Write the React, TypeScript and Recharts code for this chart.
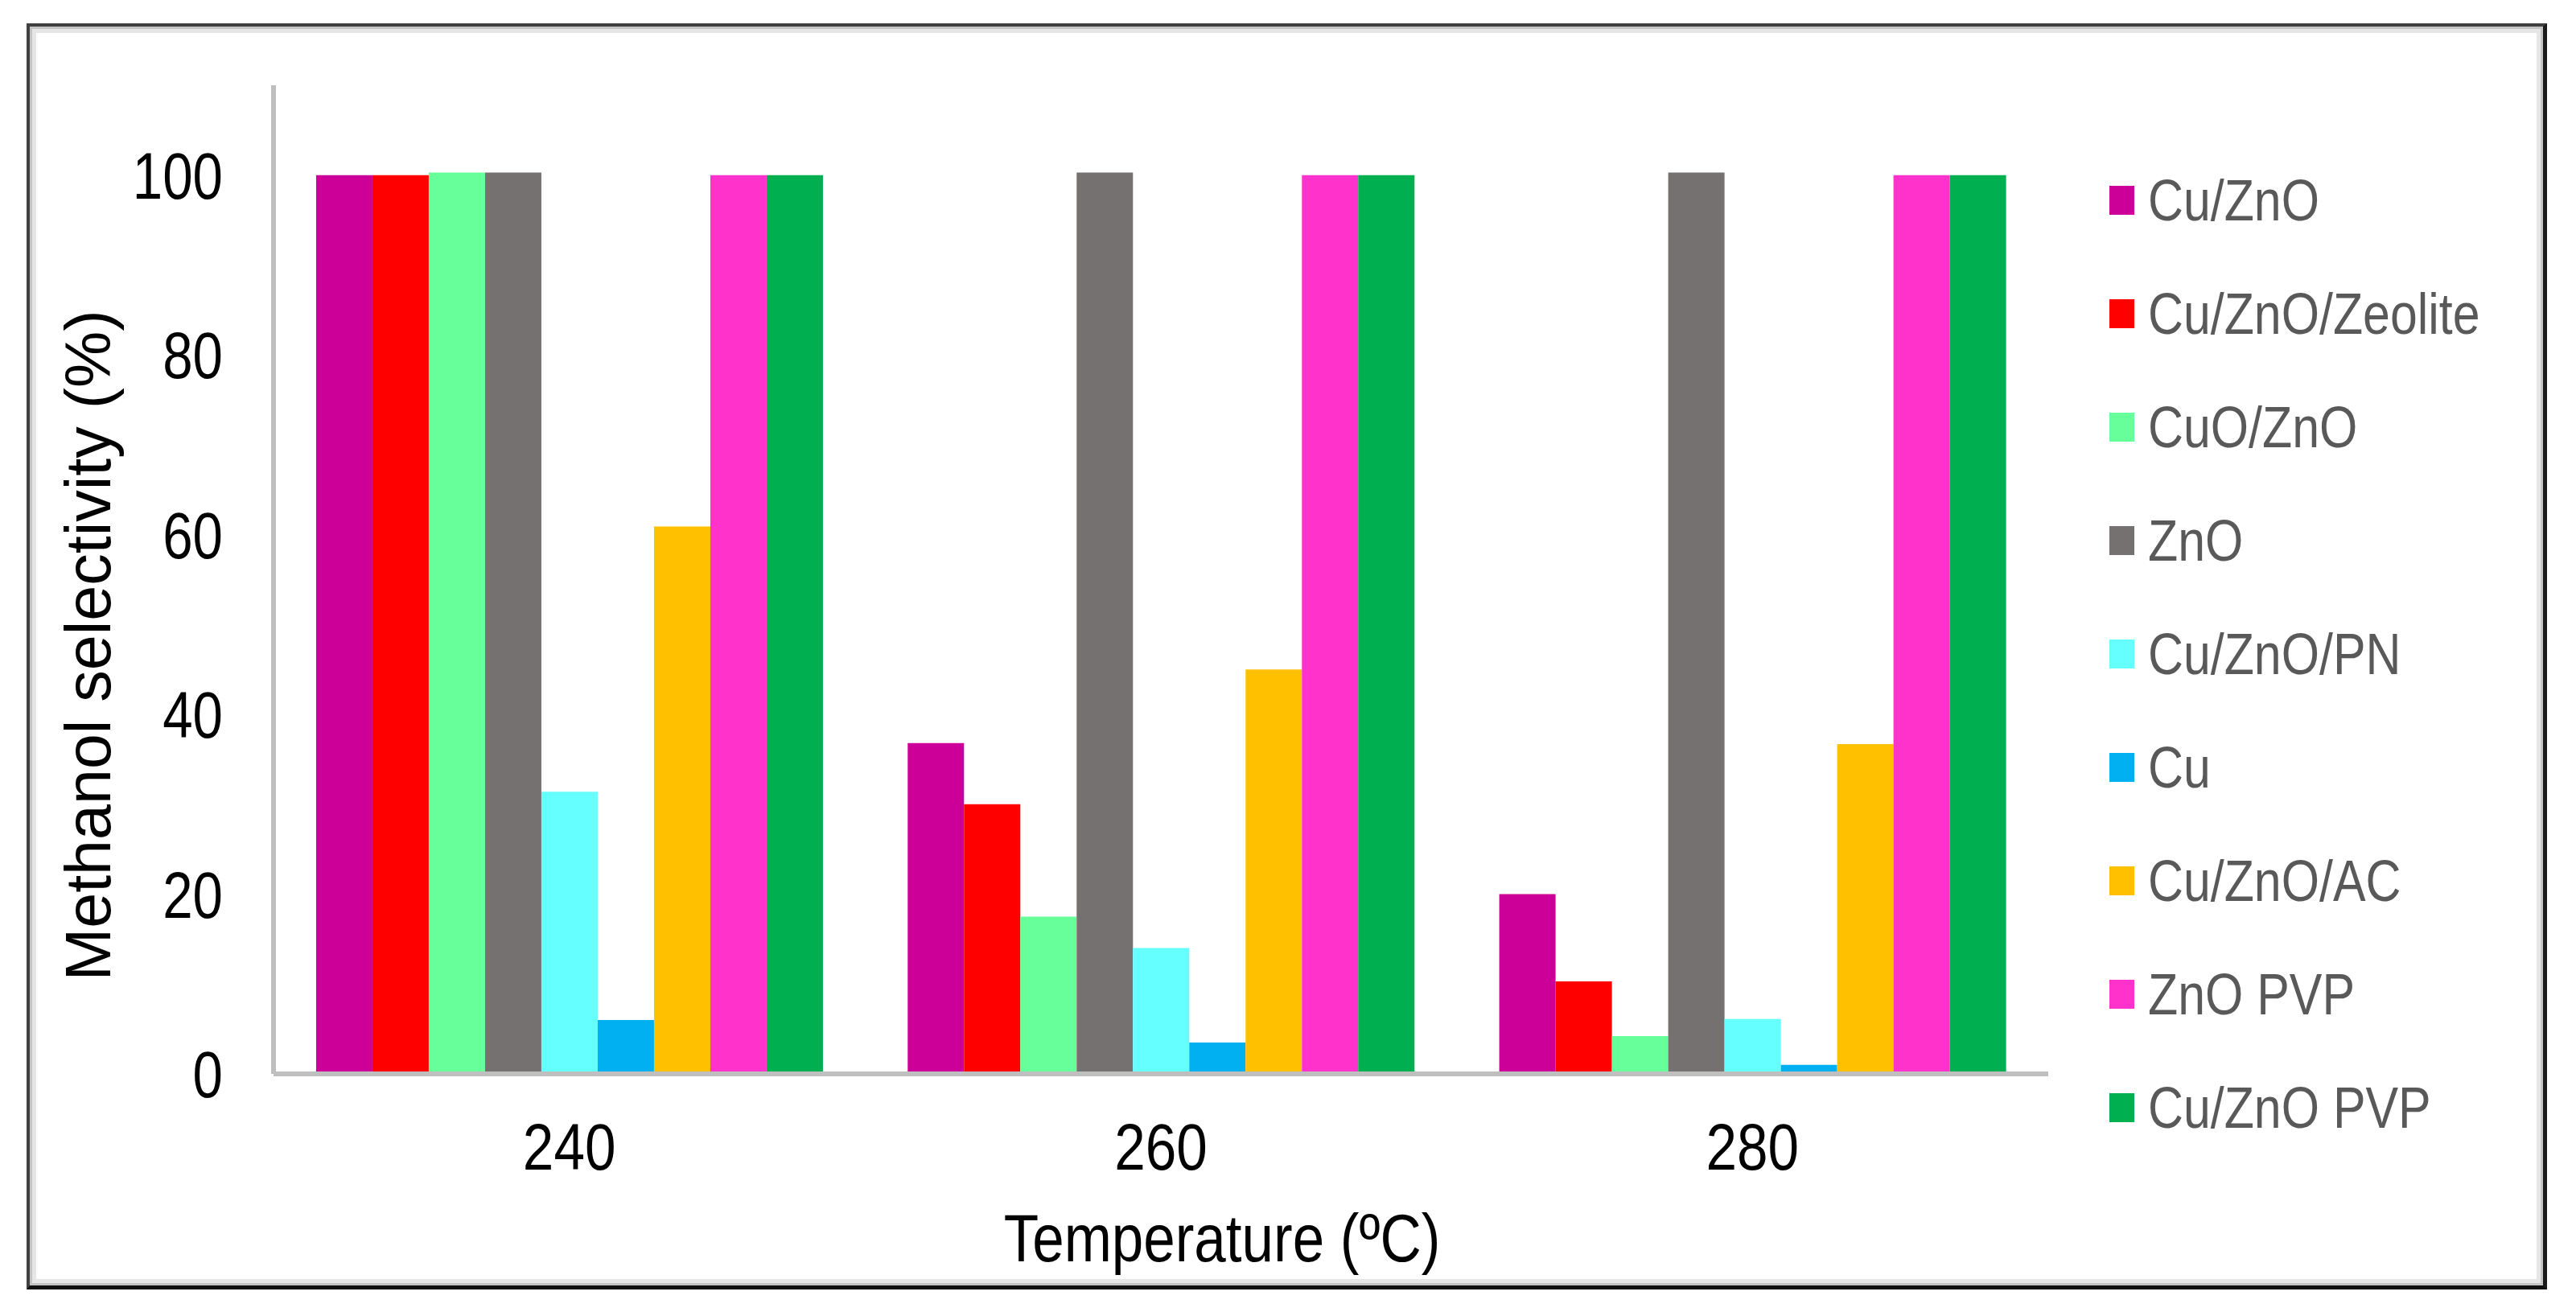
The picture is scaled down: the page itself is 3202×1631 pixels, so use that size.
import React from 'react';
import { Bar, BarChart, XAxis, YAxis } from 'recharts';

// temperatures (ºC) on the category axis
const categories = ['240', '260', '280'];

const seriesNames = [
  'Cu/ZnO',
  'Cu/ZnO/Zeolite',
  'CuO/ZnO',
  'ZnO',
  'Cu/ZnO/PN',
  'Cu',
  'Cu/ZnO/AC',
  'ZnO PVP',
  'Cu/ZnO PVP',
];

const seriesColors = [
  '#CC0099',
  '#FF0000',
  '#66FF99',
  '#767171',
  '#66FFFF',
  '#00B0F0',
  '#FFC000',
  '#FF33CC',
  '#00B050',
];

// methanol selectivity (%) per catalyst at 240 / 260 / 280 ºC
const cuZnO = [100, 36.8, 20];
const cuZnOZeolite = [100, 30, 10.3];
const cuOZnO = [100.3, 17.5, 4.2];
const znO = [100.3, 100.3, 100.3];
const cuZnOPN = [31.4, 14, 6.1];
const cu = [6, 3.5, 1];
const cuZnOAC = [60.9, 45, 36.7];
const znOPVP = [100, 100, 100];
const cuZnOPVP = [100, 100, 100];

const yTicks = [0, 20, 40, 60, 80, 100];

const seriesValues = [cuZnO, cuZnOZeolite, cuOZnO, znO, cuZnOPN, cu, cuZnOAC, znOPVP, cuZnOPVP];

const data = categories.map((temp, i) => {
  const row: Record<string, string | number> = { temp };
  seriesValues.forEach((vals, s) => {
    row[`s${s}`] = vals[i];
  });
  return row;
});

const FONT = '"Liberation Sans", Arial, Helvetica, sans-serif';
const AXIS_GREY = '#BFBFBF';

function YTick(props: any) {
  const { x, y, payload } = props;
  return (
    <g transform={`translate(${x},${y + 29}) scale(0.82,1)`}>
      <text x={0} y={0} textAnchor="end" fontSize={82} fill="#000" fontFamily={FONT}>
        {payload?.value}
      </text>
    </g>
  );
}

function XTick(props: any) {
  const { x, y, payload } = props;
  return (
    <g transform={`translate(${x},${y + 119}) scale(0.845,1)`}>
      <text x={0} y={0} textAnchor="middle" fontSize={82} fill="#000" fontFamily={FONT}>
        {payload?.value}
      </text>
    </g>
  );
}

function XTitle(props: any) {
  const vb = props?.viewBox ?? {};
  const cx = (vb.x ?? 0) + (vb.width ?? 0) / 2 + 76;
  const by = (vb.y ?? 0) + 233;
  return (
    <g transform={`translate(${cx},${by}) scale(0.845,1)`}>
      <text x={0} y={0} textAnchor="middle" fontSize={84} fill="#000" fontFamily={FONT}>
        Temperature (ºC)
      </text>
    </g>
  );
}

function YTitle(props: any) {
  const vb = props?.viewBox ?? {};
  const cy = (vb.y ?? 0) + (vb.height ?? 0) / 2 + 82;
  return (
    <text
      x={0}
      y={0}
      transform={`translate(137,${cy}) rotate(-90)`}
      textAnchor="middle"
      fontSize={79}
      fill="#000"
      fontFamily={FONT}
    >
      Methanol selectivity (%)
    </text>
  );
}

function LegendBox() {
  return (
    <div style={{ position: 'absolute', left: 2622, top: 178, fontFamily: FONT }}>
      {seriesNames.map((name, i) => (
        <div key={name} style={{ height: 141, display: 'flex', alignItems: 'center' }}>
          <div style={{ width: 31, height: 36, background: seriesColors[i], marginRight: 17, flex: 'none' }} />
          <div
            style={{
              fontSize: 72,
              lineHeight: '72px',
              color: '#595959',
              whiteSpace: 'nowrap',
              transform: 'scale(0.845,1)',
              transformOrigin: 'left center',
            }}
          >
            {name}
          </div>
        </div>
      ))}
    </div>
  );
}

export default function App() {
  return (
    <div style={{ position: 'absolute', left: 0, top: 0, width: 3202, height: 1631, background: '#fff' }}>
      <div
        style={{
          position: 'absolute',
          left: 33,
          top: 29,
          width: 3133,
          height: 1574,
          boxSizing: 'border-box',
          borderTop: '4px solid #404040',
          borderLeft: '4px solid #404040',
          borderRight: '5px solid #1a1a1a',
          borderBottom: '5px solid #111',
          boxShadow: 'inset 0 0 0 3px #c4c4c4, inset 0 0 0 8px #e6e6e6',
        }}
      />
      <div style={{ position: 'absolute', left: 0, top: 0 }}>
        <BarChart
          width={3202}
          height={1631}
          data={data}
          margin={{ top: 106, right: 656, bottom: 146, left: 140 }}
          barCategoryGap="7.2%"
          barGap={0}
        >
          <XAxis
            dataKey="temp"
            height={150}
            tickSize={0}
            tickMargin={0}
            tickLine={false}
            axisLine={{ stroke: AXIS_GREY, strokeWidth: 6 }}
            tick={<XTick />}
            label={{ content: <XTitle /> } as any}
          />
          <YAxis
            width={200}
            domain={[0, 110]}
            ticks={yTicks}
            tickSize={0}
            tickMargin={63}
            tickLine={false}
            axisLine={{ stroke: AXIS_GREY, strokeWidth: 6 }}
            tick={<YTick />}
            label={{ content: <YTitle /> } as any}
          />
          {seriesNames.map((name, s) => (
            <Bar
              key={name}
              dataKey={`s${s}`}
              name={name}
              fill={seriesColors[s]}
              isAnimationActive={false}
            />
          ))}
        </BarChart>
      </div>
      <LegendBox />
    </div>
  );
}
